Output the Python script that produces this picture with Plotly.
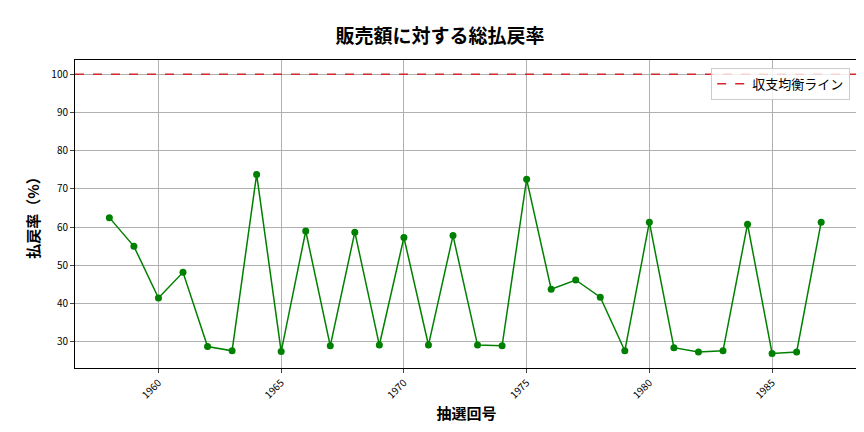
import plotly.graph_objects as go

draws = list(range(1958, 1988))
rates = [62.5, 55.0, 41.5, 48.2, 28.8, 27.7, 73.8, 27.5, 59.0, 29.0,
         58.7, 29.2, 57.3, 29.2, 57.8, 29.2, 29.0, 72.5, 43.8, 46.2,
         41.7, 27.7, 61.3, 28.5, 27.4, 27.7, 60.8, 27.0, 27.4, 61.3]
breakeven = 100

font = "Noto Sans CJK JP"

fig = go.Figure()
fig.add_trace(go.Scatter(
    x=draws, y=rates, mode="lines+markers",
    line=dict(color="green", width=1.5),
    marker=dict(color="green", size=7),
    showlegend=False,
))
fig.add_trace(go.Scatter(
    x=[1956.6, 1988.5], y=[breakeven, breakeven], mode="lines",
    line=dict(color="#d62728", width=1.5, dash="dash"),
    name="収支均衡ライン",
))

axis = dict(showgrid=True, gridcolor="#b0b0b0", gridwidth=0.8,
            showline=True, linecolor="black", mirror=True,
            ticks="outside", ticklen=4, zeroline=False, automargin=False,
            tickfont=dict(size=10, color="black"))

fig.update_layout(
    width=864, height=432,
    font=dict(family=font, color="black"),
    plot_bgcolor="white", paper_bgcolor="white",
    margin=dict(l=67, r=14, t=52, b=72, autoexpand=False),
    title=dict(text="<b>販売額に対する総払戻率</b>", x=0.5, y=0.95,
               xanchor="center", font=dict(size=19)),
    xaxis=dict(axis, range=[1956.6, 1988.5], tickvals=[1960, 1965, 1970, 1975, 1980, 1985],
               tickangle=-45,
               title=dict(text="<b>抽選回号</b>", font=dict(size=15), standoff=8)),
    yaxis=dict(axis, range=[23.2, 103.7], dtick=10,
               title=dict(text="<b>払戻率（%）</b>", font=dict(size=15), standoff=8)),
    legend=dict(x=0.99, y=0.975, xanchor="right", yanchor="top",
                bordercolor="#cccccc", borderwidth=1, font=dict(size=13),
                bgcolor="rgba(255,255,255,0.8)"),
)

fig.write_html("out.html")
